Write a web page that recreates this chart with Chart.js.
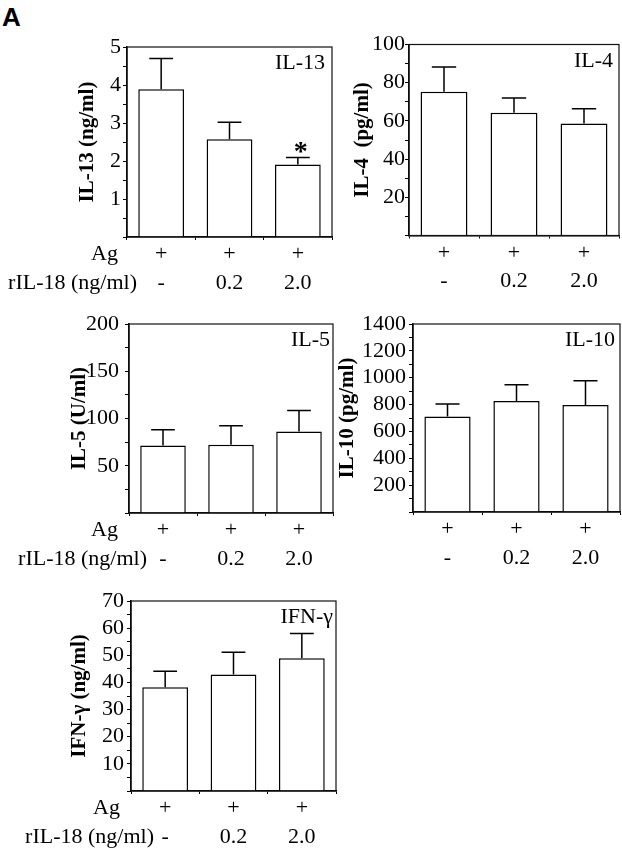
<!DOCTYPE html>
<html><head><meta charset="utf-8">
<script src="https://cdn.jsdelivr.net/npm/chart.js@4.4.1/dist/chart.umd.min.js"></script>
<style>
html,body{margin:0;padding:0;background:#fff;}
#wrap{position:relative;width:622px;height:853px;overflow:hidden;background:#fff;}
canvas{position:absolute;left:0;top:0;}
#lblA{position:absolute;left:2px;top:4px;font:bold 26px/26px "Liberation Sans",Arial,sans-serif;color:#000;}
</style></head><body>
<div id="wrap"><div id="lblA">A</div>
<canvas id="c1" width="622" height="853"></canvas>
<canvas id="c2" width="622" height="853"></canvas>
<canvas id="c3" width="622" height="853"></canvas>
<canvas id="c4" width="622" height="853"></canvas>
<canvas id="c5" width="622" height="853"></canvas>
</div>
<script>
// ---- data ----
const agRow = ['+', '+', '+'];
const doseRow = ['-', '0.2', '2.0'];
const rowNames = ['Ag', 'rIL-18 (ng/ml)'];

const il13Mean = [3.89, 2.57, 1.91];
const il13Sem  = [0.81, 0.45, 0.18];
const il13Sig  = ['', '', '*'];

const il4Mean = [75.3, 64.3, 58.7];
const il4Sem  = [12.9, 7.7, 7.7];

const il5Mean = [71.4, 72.1, 86.3];
const il5Sem  = [16.6, 20.1, 22.2];

const il10Mean = [712, 827, 797];
const il10Sem  = [92, 121, 181];

const ifnMean = [38.2, 42.9, 48.9];
const ifnSem  = [5.9, 8.2, 9.1];

// ---- rendering ----
const SERIF = '"Liberation Serif","Times New Roman",serif';
const W = 622, H = 853, XH = 60;

const framePlugin = {
  id: 'frame',
  afterDraw(chart) {
    const a = chart.chartArea, ctx = chart.ctx;
    ctx.save();
    ctx.strokeStyle = '#111'; ctx.lineWidth = 1.2;
    ctx.strokeRect(a.left, a.top, a.right - a.left, a.bottom - a.top);
    ctx.restore();
  }
};

function makePanel(id, cfg) {
  const padLeft = cfg.titleX - 12.6;
  const extras = {
    id: 'extras_' + id,
    afterDatasetsDraw(chart) {
      const ctx = chart.ctx, meta = chart.getDatasetMeta(0), ys = chart.scales.y;
      ctx.save();
      ctx.strokeStyle = '#000'; ctx.lineWidth = 1.5;
      meta.data.forEach((bar, i) => {
        const yTop = ys.getPixelForValue(cfg.mean[i] + cfg.sem[i]);
        const half = bar.width * 0.26;
        ctx.beginPath();
        ctx.moveTo(bar.x, bar.y); ctx.lineTo(bar.x, yTop);
        ctx.moveTo(bar.x - half, yTop); ctx.lineTo(bar.x + half, yTop);
        ctx.stroke();
        if (cfg.sig && cfg.sig[i]) {
          ctx.fillStyle = '#000';
          ctx.font = 'bold 28px ' + SERIF;
          ctx.textAlign = 'center'; ctx.textBaseline = 'alphabetic';
          ctx.fillText(cfg.sig[i], bar.x + 3, yTop + 2);
        }
      });
      ctx.restore();
    },
    afterDraw(chart) {
      const ctx = chart.ctx, a = chart.chartArea, xs = chart.scales.x;
      ctx.save();
      ctx.fillStyle = '#000';
      ctx.font = '22px ' + SERIF;
      ctx.textAlign = 'right'; ctx.textBaseline = 'middle';
      ctx.fillText(cfg.name, a.right - cfg.nameGap, a.top + 16.5);
      if (cfg.rowX) {
        const lh = 22 * 1.3;
        const y0 = xs.top + 3 + 0 + lh / 2;
        rowNames.forEach((t, r) => {
          ctx.fillText(t, a.left + cfg.rowX[r], y0 + r * lh);
        });
      }
      ctx.restore();
    }
  };
  return new Chart(document.getElementById(id), {
    type: 'bar',
    data: {
      labels: agRow.map((a, i) => [a, doseRow[i]]),
      datasets: [{
        data: cfg.mean, backgroundColor: '#fff', borderColor: '#000',
        borderWidth: 1.5, barPercentage: 0.67, categoryPercentage: 1
      }]
    },
    options: {
      responsive: false, animation: false, devicePixelRatio: 1,
      layout: { padding: { left: padLeft, top: cfg.T, right: W - cfg.R, bottom: H - cfg.B - XH } },
      plugins: { legend: { display: false }, tooltip: { enabled: false } },
      scales: {
        x: {
          offset: true,
          grid: { offset: true, drawOnChartArea: false, drawTicks: true, tickLength: 3, color: '#000', lineWidth: 1 },
          border: { display: true, color: '#000', width: 1.5 },
          ticks: { color: '#000', font: { family: SERIF, size: 22, lineHeight: 1.3 }, padding: 0, maxRotation: 0, autoSkip: false },
          afterFit: s => { s.height = XH; }
        },
        y: {
          min: 0, max: cfg.max,
          ticks: {
            stepSize: cfg.minor, autoSkip: false, color: '#000', padding: cfg.tickPad,
            font: { family: SERIF, size: 22 },
            callback: v => {
              const q = v / cfg.major;
              return (v > 0 && Math.abs(q - Math.round(q)) < 1e-6) ? String(v) : '';
            }
          },
          grid: { drawOnChartArea: false, drawTicks: true, tickLength: 4, color: '#000', lineWidth: 1 },
          border: { display: true, color: '#000', width: 1.5 },
          title: { display: true, text: cfg.ytitle, color: '#000', padding: 0,
                   font: { family: SERIF, size: 21, weight: 'bold', lineHeight: 1.2 } },
          afterFit: s => { s.width = cfg.L - padLeft; }
        }
      }
    },
    plugins: [framePlugin, extras]
  });
}

makePanel('c1', { mean: il13Mean, sem: il13Sem, sig: il13Sig, max: 5, major: 1, minor: 0.5,
  ytitle: 'IL-13 (ng/ml)', name: 'IL-13', nameGap: 7, titleX: 88, tickPad: 2,
  L: 127, T: 47, R: 332, B: 237, rowX: [-9, 10] });
makePanel('c2', { mean: il4Mean, sem: il4Sem, max: 100, major: 20, minor: 10,
  ytitle: 'IL-4  (pg/ml)', name: 'IL-4', nameGap: 6, titleX: 363, tickPad: 0,
  L: 409, T: 44.5, R: 619, B: 235.5 });
makePanel('c3', { mean: il5Mean, sem: il5Sem, max: 200, major: 50, minor: 25,
  ytitle: 'IL-5 (U/ml)', name: 'IL-5', nameGap: 3, titleX: 80, tickPad: 6,
  L: 129, T: 324, R: 333, B: 513, rowX: [-11, 18] });
makePanel('c4', { mean: il10Mean, sem: il10Sem, max: 1400, major: 200, minor: 100,
  ytitle: 'IL-10 (pg/ml)', name: 'IL-10', nameGap: 5, titleX: 348, tickPad: 3,
  L: 413, T: 324, R: 620, B: 512 });
makePanel('c5', { mean: ifnMean, sem: ifnSem, max: 70, major: 10, minor: 5,
  ytitle: 'IFN-γ (ng/ml)', name: 'IFN-γ', nameGap: 3, titleX: 80, tickPad: 3,
  L: 131, T: 601, R: 336, B: 791, rowX: [-11, 23] });
</script>
</body></html>
